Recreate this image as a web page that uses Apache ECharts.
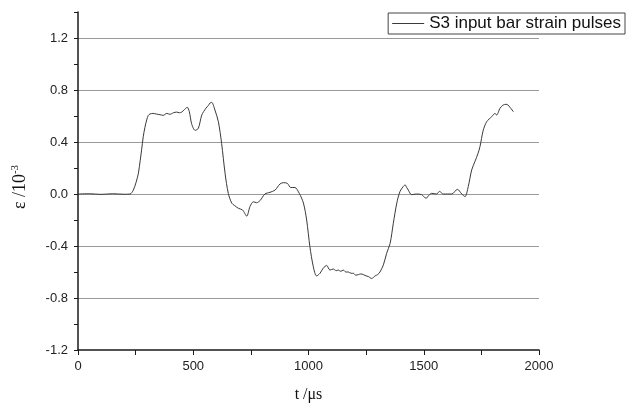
<!DOCTYPE html>
<html>
<head>
<meta charset="utf-8">
<script src="https://cdn.jsdelivr.net/npm/echarts@6/dist/echarts.min.js"></script>
<style>
html,body{margin:0;padding:0;background:#fff;}
#chart{width:626px;height:408px;}
</style>
</head>
<body>
<div id="chart"></div>
<script>
var seriesName = 'S3 input bar strain pulses';
var timeValues = [0, 50, 100, 150, 200, 226, 240, 252, 262, 270, 276, 283, 290, 298, 305, 312, 325, 340, 356, 370, 385, 399, 414, 428, 440, 450, 462, 474, 483, 493, 508, 522, 537, 555, 565, 573, 580, 594, 609, 623, 638, 652, 667, 680, 696, 714, 732, 746, 761, 775, 790, 811, 833, 855, 876, 891, 908, 923, 941, 960, 978, 992, 1006, 1021, 1035, 1050, 1064, 1079, 1093, 1108, 1120, 1129, 1140, 1151, 1162, 1173, 1185, 1195, 1205, 1216, 1227, 1238, 1250, 1260, 1274, 1289, 1300, 1310, 1325, 1339, 1354, 1368, 1383, 1397, 1411, 1419, 1426, 1433, 1447, 1469, 1491, 1510, 1522, 1534, 1556, 1568, 1585, 1621, 1646, 1665, 1679, 1693, 1708, 1722, 1735, 1744, 1758, 1773, 1795, 1809, 1816, 1831, 1845, 1857, 1865, 1874, 1889];
var strainValues = [0.0, 0.002, -0.003, 0.002, -0.002, 0.0, 0.03, 0.09, 0.16, 0.26, 0.34, 0.44, 0.51, 0.57, 0.605, 0.615, 0.62, 0.615, 0.61, 0.605, 0.62, 0.613, 0.625, 0.63, 0.625, 0.63, 0.65, 0.667, 0.633, 0.54, 0.49, 0.505, 0.607, 0.66, 0.68, 0.70, 0.705, 0.646, 0.556, 0.39, 0.16, 0.005, -0.07, -0.09, -0.11, -0.123, -0.17, -0.097, -0.06, -0.067, -0.05, 0.0, 0.013, 0.03, 0.077, 0.087, 0.082, 0.05, 0.05, 0.005, -0.07, -0.2, -0.405, -0.56, -0.63, -0.61, -0.57, -0.55, -0.585, -0.577, -0.59, -0.585, -0.595, -0.585, -0.6, -0.6, -0.61, -0.61, -0.625, -0.62, -0.615, -0.62, -0.63, -0.635, -0.65, -0.63, -0.62, -0.6, -0.545, -0.456, -0.38, -0.225, -0.07, 0.02, 0.057, 0.07, 0.05, 0.03, -0.005, 0.0, -0.005, -0.033, -0.01, 0.005, 0.0, 0.02, 0.0, 0.0, 0.036, 0.0, -0.02, 0.057, 0.185, 0.25, 0.31, 0.365, 0.49, 0.556, 0.595, 0.62, 0.607, 0.66, 0.685, 0.69, 0.685, 0.667, 0.633];
var xTicks = [0, 500, 1000, 1500, 2000];
var yTicks = [-1.2, -0.8, -0.4, 0.0, 0.4, 0.8, 1.2];

var data = timeValues.map(function (t, i) { return [t, strainValues[i]]; });
var chart = echarts.init(document.getElementById('chart'), null, {renderer: 'canvas'});
var axisColor = '#1a1a1a';
chart.setOption({
  animation: false,
  backgroundColor: '#ffffff',
  grid: {left: 78, right: 87, top: 12, bottom: 57, containLabel: false},
  legend: {
    show: true,
    right: 1,
    top: 13,
    orient: 'horizontal',
    data: [{name: seriesName, icon: 'rect'}],
    itemWidth: 32,
    itemHeight: 1,
    padding: [2, 4, 2, 4],
    borderColor: '#444',
    borderWidth: 1,
    borderRadius: 0,
    textStyle: {fontFamily: 'Liberation Sans, Arial, sans-serif', fontSize: 17, color: '#111'}
  },
  xAxis: {
    type: 'value',
    min: xTicks[0],
    max: xTicks[xTicks.length - 1],
    interval: 500,
    name: 't /\u03bcs',
    nameLocation: 'middle',
    nameGap: 37,
    nameTextStyle: {fontFamily: 'Liberation Serif, Times New Roman, serif', fontSize: 16, color: '#111'},
    axisLine: {show: true, onZero: false, lineStyle: {color: axisColor, width: 1.5}},
    axisTick: {show: true, inside: false, length: 5, lineStyle: {color: axisColor, width: 1}},
    minorTick: {show: true, splitNumber: 2, length: 5, lineStyle: {color: axisColor, width: 1}},
    axisLabel: {margin: 10, fontFamily: 'Liberation Sans, Arial, sans-serif', fontSize: 13, color: '#222',
      formatter: function (v) { return String(v); }},
    splitLine: {show: false}
  },
  yAxis: {
    type: 'value',
    min: yTicks[0],
    max: 1.4,
    interval: 0.4,
    name: '{e|\u03b5 /10}{s|-3}',
    nameLocation: 'middle',
    nameGap: 48,
    nameRotate: 90,
    nameTextStyle: {
      color: '#111',
      padding: [0, 12, 0, 0],
      rich: {
        e: {fontFamily: 'Liberation Serif, Times New Roman, serif', fontSize: 18, color: '#111'},
        s: {fontFamily: 'Liberation Serif, Times New Roman, serif', fontSize: 11, color: '#111', verticalAlign: 'top', padding: [0, 0, 9, 0]}
      }
    },
    axisLine: {show: true, onZero: false, lineStyle: {color: axisColor, width: 1.5}},
    axisTick: {show: true, inside: false, length: 4, lineStyle: {color: axisColor, width: 1}},
    minorTick: {show: true, splitNumber: 2, length: 4, lineStyle: {color: axisColor, width: 1}},
    axisLabel: {
      margin: 10,
      showMaxLabel: false,
      fontFamily: 'Liberation Sans, Arial, sans-serif', fontSize: 13, color: '#222',
      formatter: function (v) { return v.toFixed(1); }
    },
    splitLine: {show: true, showMinLine: false, showMaxLine: false, lineStyle: {color: '#9a9a9a', width: 1}}
  },
  series: [{
    name: seriesName,
    type: 'line',
    data: data,
    symbol: 'none',
    smooth: 0.3,
    lineStyle: {color: '#3a3a3a', width: 1},
    itemStyle: {color: '#3a3a3a'}
  }]
});
</script>
</body>
</html>
